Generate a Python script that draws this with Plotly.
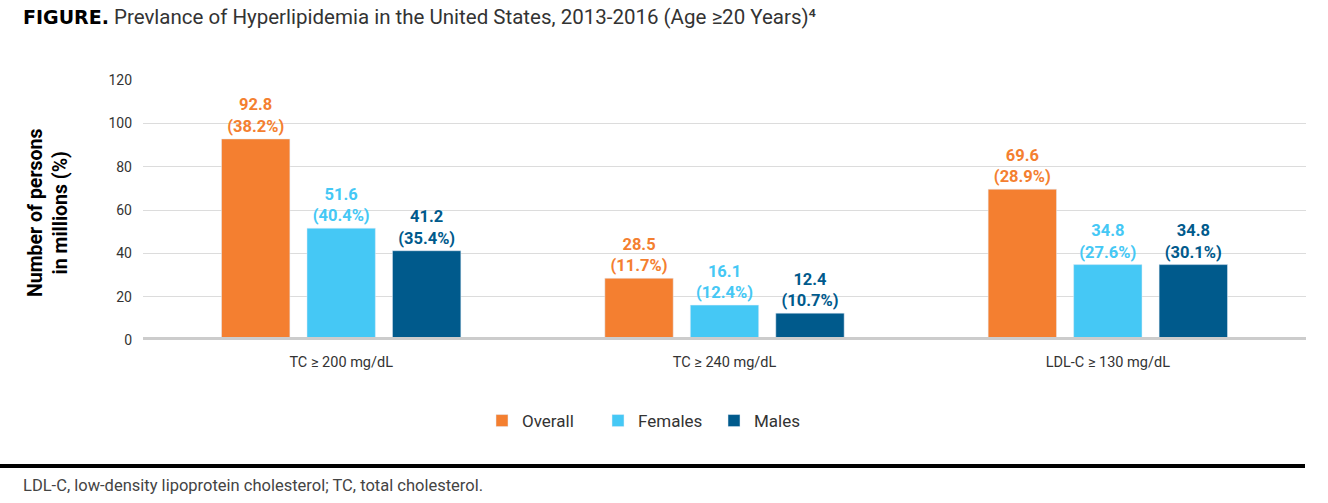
import plotly.graph_objects as go

categories = ["TC ≥ 200 mg/dL", "TC ≥ 240 mg/dL", "LDL-C ≥ 130 mg/dL"]
series_names = ["Overall", "Females", "Males"]
overall = [92.8, 28.5, 69.6]
females = [51.6, 16.1, 34.8]
males = [41.2, 12.4, 34.8]
overall_pct = [38.2, 11.7, 28.9]
females_pct = [40.4, 12.4, 27.6]
males_pct = [35.4, 10.7, 30.1]
y_ticks = [0, 20, 40, 60, 80, 100, 120]

colors = ["#F47F30", "#45C8F5", "#005A8C"]
FONT = "Roboto"

fig = go.Figure()
for name, vals, pcts, col in zip(series_names, [overall, females, males],
                                 [overall_pct, females_pct, males_pct], colors):
    fig.add_trace(go.Bar(
        x=[0, 1, 2], y=vals, name=name, marker_color=col,
        customdata=pcts,
        texttemplate="<b>%{y:.1f}<br>(%{customdata:.1f}%)</b>",
        textposition="outside", cliponaxis=False,
        textfont=dict(color=col, size=16.5, family=FONT),
        hoverinfo="skip",
    ))

# body margin is removed in the page, so figure pixels == page pixels
FW, FH = 1328, 503
L, T = 143, 80
W, H = 1163, 260
R = FW - L - W
B = FH - T - H

def px(x):
    return (x - L) / W

def py(y):
    return (T + H - y) / H

fig.update_layout(
    width=FW, height=FH,
    margin=dict(l=L, r=R, t=T, b=B),
    paper_bgcolor="white", plot_bgcolor="white",
    barmode="group", bargap=0.331, bargroupgap=0.2,
    font=dict(family=FONT, color="#333333"),
    showlegend=True,
    legend=dict(orientation="h", x=px(482), y=py(421), xanchor="left", yanchor="middle",
                font=dict(size=17, color="#333333", family=FONT), itemclick=False,
                itemwidth=30, entrywidth=71, tracegroupgap=0),
    xaxis=dict(range=[-0.517, 2.517], tickvals=[0, 1, 2], ticktext=categories,
               showgrid=False, showline=False, zeroline=False, ticks="",
               tickfont=dict(size=14.5, color="#333333"), ticklabelstandoff=11),
    yaxis=dict(range=[0, 120], tickvals=y_ticks, showgrid=True, gridcolor="#DCDCDC", gridwidth=1,
               zeroline=False, showline=False, ticks="", tickfont=dict(size=14, color="#333333"),
               ticklabelstandoff=10),
    shapes=[
        dict(type="line", xref="paper", yref="y", x0=0, x1=1, y0=0, y1=0,
             line=dict(color="#CCCCCC", width=6), layer="above"),
        dict(type="line", xref="paper", yref="paper", x0=px(0), x1=px(1305),
             y0=py(466), y1=py(466), line=dict(color="black", width=4)),
    ],
    annotations=[
        dict(text="<span style='font-family:DejaVu Sans;font-weight:bold;font-size:19px'>FIGURE.</span> <span style='color:#333333'>Prevlance of Hyperlipidemia in the United States, 2013-2016 (Age ≥20 Years)⁴</span>",
             xref="paper", yref="paper", x=px(21), y=py(17), xanchor="left", yanchor="middle",
             showarrow=False, font=dict(size=20.5, color="black", family=FONT)),
        dict(text="<b>Number of persons<br>in millions (%)</b>", textangle=-90,
             xref="paper", yref="paper", x=px(48), y=py(213), xanchor="center", yanchor="middle",
             showarrow=False, font=dict(size=19.5, color="black", family=FONT)),
        dict(text="LDL-C, low-density lipoprotein cholesterol; TC, total cholesterol.",
             xref="paper", yref="paper", x=px(21), y=py(485), xanchor="left", yanchor="middle",
             showarrow=False, font=dict(size=16.5, color="#444444", family=FONT)),
    ],
)

fig.write_html("out.html", config={"displayModeBar": False},
               post_script="document.body.style.margin='0';document.body.style.overflow='hidden';")
